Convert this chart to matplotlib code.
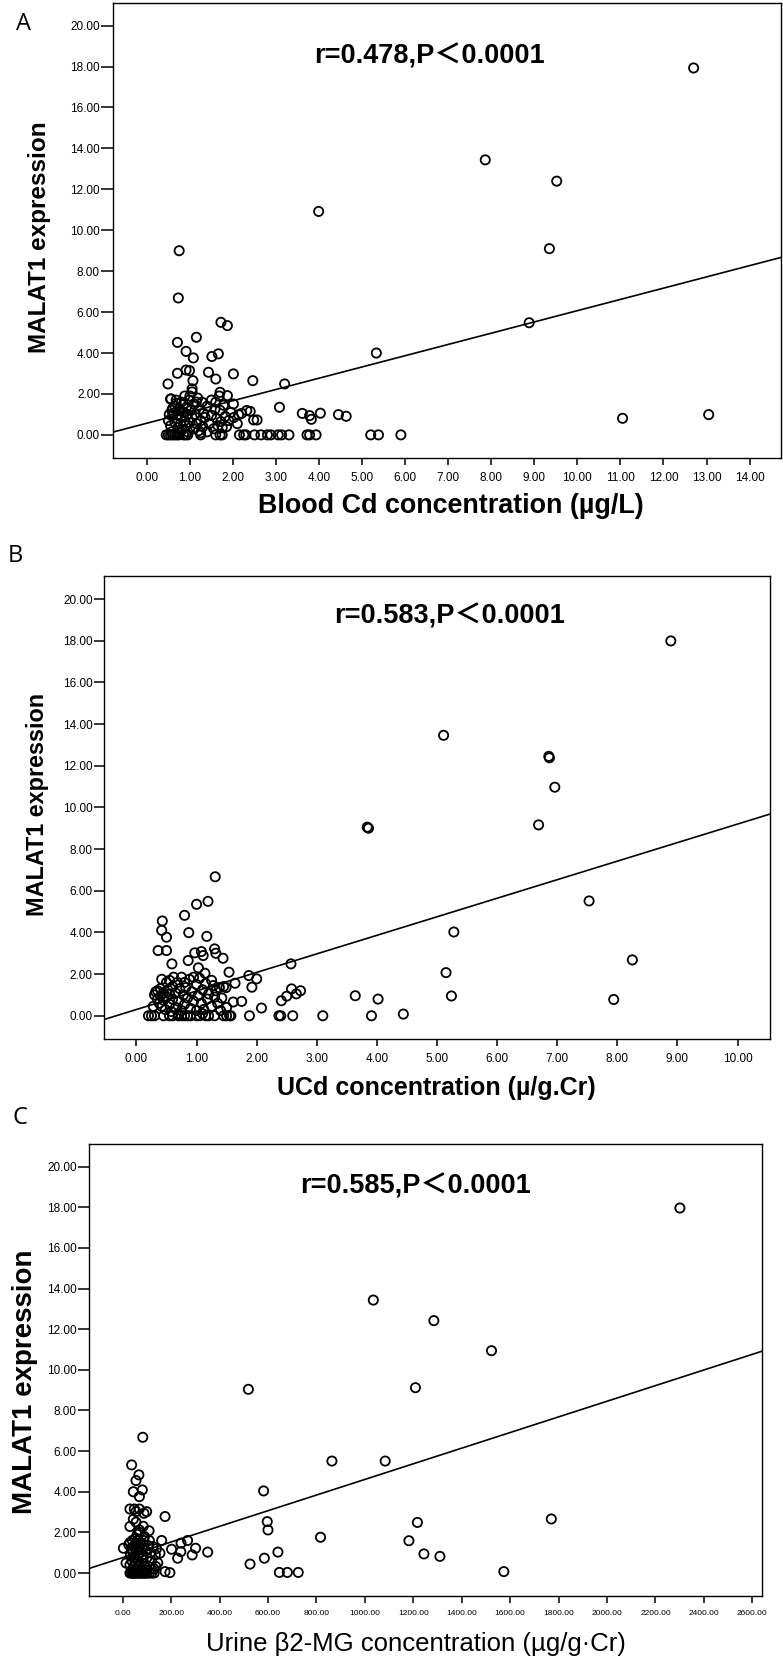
"""
MALAT1 expression vs. cadmium exposure markers (three stacked scatter panels)
"""

#---------------------------------------------------------------------------------------------------
# Import Modules
#---------------------------------------------------------------------------------------------------

import numpy as np
import matplotlib
matplotlib.use('Agg')
import matplotlib.pyplot as plt


#---------------------------------------------------------------------------------------------------
# Data
#---------------------------------------------------------------------------------------------------

# Panel A: blood Cd (ug/L) vs MALAT1
a_points = [(12.70, 17.93), (7.86, 13.44), (9.52, 12.40), (3.99, 10.92), (0.75, 9.00), (9.35, 9.10),
            (0.73, 6.69), (8.88, 5.48), (1.72, 5.50), (1.87, 5.34), (1.15, 4.77), (0.71, 4.52),
            (0.91, 4.08), (1.08, 3.76), (1.51, 3.83), (1.66, 3.96), (5.33, 4.00), (0.91, 3.17),
            (0.99, 3.14), (0.71, 3.01), (1.43, 3.06), (1.60, 2.73), (2.01, 2.98), (0.49, 2.49),
            (1.07, 2.65), (2.46, 2.65), (3.20, 2.49), (1.05, 2.25), (1.70, 2.08), (1.87, 1.92),
            (0.56, 1.76), (3.08, 1.35), (3.61, 1.05), (3.82, 0.76), (3.78, 0.94), (4.03, 1.06),
            (4.45, 0.99), (4.63, 0.91), (2.32, 1.19), (2.40, 1.15), (2.01, 1.51), (2.48, 0.73),
            (2.56, 0.73), (2.13, 0.99), (11.05, 0.81), (13.05, 0.99),
            (0.55, 1.75), (0.58, 1.20), (0.60, 0.95), (0.62, 1.05), (0.65, 0.60), (0.65, 1.40),
            (0.68, 1.55), (0.70, 0.80), (0.72, 1.00), (0.72, 0.35), (0.75, 1.25), (0.78, 0.55),
            (0.80, 1.60), (0.80, 0.90), (0.82, 0.25), (0.85, 1.10), (0.88, 1.90), (0.88, 0.70),
            (0.90, 0.45), (0.92, 1.35), (0.95, 1.00), (0.95, 0.15), (0.98, 1.70), (1.00, 0.60),
            (1.02, 1.20), (1.05, 0.85), (1.05, 2.10), (1.08, 0.30), (1.10, 1.50), (1.12, 1.00),
            (1.15, 0.55), (1.18, 1.80), (1.20, 0.20), (1.22, 1.25), (1.25, 0.70), (1.28, 1.60),
            (1.30, 0.40), (1.32, 1.05), (1.35, 0.85), (1.40, 1.40), (1.45, 0.55), (1.50, 0.95),
            (1.55, 0.30), (1.58, 1.25), (1.60, 1.60), (1.62, 0.80), (1.65, 0.45), (1.68, 1.90),
            (1.70, 1.20), (1.72, 0.65), (1.75, 0.35), (1.78, 1.45), (1.82, 0.90), (1.85, 0.40),
            (1.90, 0.70), (1.95, 1.10), (2.02, 0.85), (0.50, 0.70), (0.52, 1.00), (0.55, 0.45),
            (0.60, 1.30), (0.58, 0.15), (0.68, 1.70), (0.75, 0.10), (0.85, 1.50), (1.00, 1.90),
            (1.15, 1.60), (1.25, 0.10), (1.40, 0.15), (1.50, 1.70), (2.10, 0.55), (2.20, 1.05)]
a_zeros = [0.45, 0.50, 0.55, 0.60, 0.65, 0.70, 0.75, 0.85, 0.90, 0.95, 1.25, 1.60, 1.70, 1.75,
           2.15, 2.25, 2.30, 2.50, 2.65, 2.80, 2.88, 3.05, 3.13, 3.30, 3.72, 3.78, 3.93, 5.20,
           5.38, 5.90]
a_fit = (0.57, 0.55)  # intercept, slope

# Panel B: urinary Cd (ug/g Cr) vs MALAT1
b_points = [(8.89, 17.99), (5.11, 13.46), (6.86, 12.45), (6.87, 12.38), (6.96, 10.97), (6.69, 9.16),
            (3.84, 9.05), (3.86, 9.00), (7.53, 5.51), (5.28, 4.02), (8.25, 2.68), (5.15, 2.07),
            (5.24, 0.95), (7.94, 0.78), (3.64, 0.96), (4.02, 0.80), (4.44, 0.08),
            (1.31, 6.67), (1.00, 5.35), (1.19, 5.49), (0.80, 4.82), (0.43, 4.55), (0.42, 4.10),
            (0.50, 3.77), (0.87, 3.99), (1.17, 3.81), (0.36, 3.13), (0.50, 3.13), (0.97, 3.02),
            (1.08, 3.08), (1.11, 2.89), (1.30, 3.21), (1.32, 3.00), (1.44, 2.76), (0.59, 2.49),
            (0.86, 2.65), (1.03, 2.30), (1.14, 2.04), (1.54, 2.09), (2.57, 2.49), (1.87, 1.93),
            (2.00, 1.77), (1.92, 1.37), (1.64, 1.56), (1.49, 1.35), (1.75, 0.69), (1.61, 0.66),
            (2.08, 0.37), (2.58, 1.29), (2.66, 1.05), (2.73, 1.20), (2.50, 0.94), (2.41, 0.72),
            (0.30, 1.00), (0.32, 1.15), (0.35, 0.80), (0.35, 1.20), (0.38, 0.60), (0.40, 0.95),
            (0.40, 1.30), (0.42, 0.45), (0.45, 1.10), (0.45, 0.75), (0.48, 0.30), (0.50, 1.60),
            (0.50, 0.90), (0.52, 1.25), (0.55, 0.55), (0.55, 1.05), (0.58, 0.20), (0.60, 1.40),
            (0.60, 0.80), (0.62, 1.85), (0.65, 1.10), (0.65, 0.40), (0.68, 1.60), (0.70, 0.70),
            (0.72, 1.30), (0.75, 1.85), (0.75, 0.25), (0.78, 1.00), (0.80, 1.60), (0.80, 0.55),
            (0.82, 1.35), (0.85, 0.85), (0.88, 1.75), (0.90, 0.35), (0.92, 1.15), (0.95, 0.70),
            (1.00, 1.50), (1.00, 0.25), (1.02, 0.95), (1.05, 1.80), (1.08, 0.60), (1.10, 1.25),
            (1.12, 0.30), (1.15, 1.55), (1.18, 0.80), (1.20, 1.05), (1.25, 0.45), (1.28, 1.45),
            (1.30, 0.90), (1.32, 1.20), (1.35, 0.60), (1.38, 1.35), (1.40, 0.25), (1.42, 0.85),
            (1.45, 1.40), (1.50, 0.40), (0.28, 0.45), (0.42, 1.75), (0.55, 1.70), (0.70, 0.10),
            (0.95, 1.85), (1.10, 0.10), (1.25, 1.70)]
b_zeros = [0.20, 0.25, 0.30, 0.45, 0.55, 0.60, 0.70, 0.75, 0.80, 0.85, 0.90, 1.00, 1.05, 1.15,
           1.20, 1.30, 1.45, 1.50, 1.55, 1.57, 1.88, 2.37, 2.40, 2.60, 3.10, 3.91]
b_fit = (0.30, 0.89)

# Panel C: urine beta2-MG (ug/g Cr) vs MALAT1
c_points = [(2301, 17.96), (1035, 13.43), (1285, 12.42), (1523, 10.94), (519, 9.04), (1209, 9.12),
            (83, 6.68), (864, 5.51), (1084, 5.51), (582, 4.04), (597, 2.53), (600, 2.12),
            (817, 1.76), (1182, 1.59), (1217, 2.49), (1244, 0.94), (1310, 0.82), (1770, 2.66),
            (1574, 0.07), (526, 0.44), (585, 0.73), (641, 1.03), (647, 0.03), (680, 0.03),
            (725, 0.03), (37, 5.32), (67, 4.83), (55, 4.55), (44, 4.00), (81, 4.09), (69, 3.76),
            (30, 3.15), (48, 3.15), (69, 3.15), (55, 3.02), (99, 3.02), (88, 2.94), (44, 2.65),
            (30, 2.29), (69, 2.12), (109, 2.08), (175, 2.78), (161, 1.60), (154, 0.98), (3, 1.22),
            (14, 0.49), (202, 1.17), (241, 1.47), (240, 1.05), (227, 0.73), (268, 1.60), (287, 0.89),
            (301, 1.22), (351, 1.03), (175, 0.07), (195, 0.02), (137, 0.32),
            (25, 1.40), (30, 1.50), (32, 0.90), (35, 1.20), (38, 0.60), (40, 1.60), (42, 1.00),
            (45, 0.30), (48, 1.35), (50, 0.80), (52, 1.70), (55, 0.50), (55, 1.10), (58, 1.45),
            (60, 0.20), (62, 0.90), (65, 1.60), (65, 0.60), (68, 1.25), (70, 0.35), (72, 1.00),
            (75, 1.50), (78, 0.70), (80, 1.20), (82, 0.15), (85, 0.90), (88, 1.60), (90, 0.45),
            (95, 1.10), (100, 0.75), (105, 1.35), (110, 0.30), (115, 1.00), (120, 0.60), (125, 1.30),
            (130, 0.20), (135, 0.90), (140, 1.20), (145, 0.50), (30, 0.40), (40, 0.10), (50, 0.15),
            (60, 1.90), (75, 0.10), (90, 1.80), (100, 0.15), (110, 1.60), (70, 2.00), (85, 2.30),
            (55, 2.50)]
c_zeros = [30, 35, 40, 45, 50, 55, 60, 65, 70, 75, 80, 85, 90, 95, 100, 110, 120, 130]
c_fit = (0.758, 0.003847)


#---------------------------------------------------------------------------------------------------
# Layout (pixel positions in the 783 x 1663 output)
#---------------------------------------------------------------------------------------------------

W, H = 783, 1663
SANS = ['Liberation Sans', 'Noto Sans CJK SC', 'DejaVu Sans']

panels = [
    {'pts': a_points, 'zeros': a_zeros, 'fit': a_fit, 'tag': 'A',
     'box': (113.3, 2.7, 781, 458), 'xlim': (-0.78, 14.73), 'xticks': np.arange(0, 15, 1),
     'tag_xy': (24, 24), 'ann': 'r=0.478,P＜0.0001', 'ann_xy': (429, 57),
     'ylab_xy': (40, 237), 'ylab_fs': 17.5, 'xlab': 'Blood Cd concentration (µg/L)',
     'xlab_xy': (451, 506), 'xlab_w': 'bold', 'xlab_fs': 19.4, 'xtick_fs': 8.5, 'ytick_len': 8.6},
    {'pts': b_points, 'zeros': b_zeros, 'fit': b_fit, 'tag': 'B',
     'box': (104, 575.7, 770, 1039.3), 'xlim': (-0.54, 10.54), 'xticks': np.arange(0, 11, 1),
     'tag_xy': (15, 556), 'ann': 'r=0.583,P＜0.0001', 'ann_xy': (449, 617),
     'ylab_xy': (37.5, 804), 'ylab_fs': 16.8, 'xlab': 'UCd concentration (µ/g.Cr)',
     'xlab_xy': (436, 1088), 'xlab_w': 'bold', 'xlab_fs': 18, 'xtick_fs': 8.5, 'ytick_len': 7.2},
    {'pts': c_points, 'zeros': c_zeros, 'fit': c_fit, 'tag': 'C',
     'box': (89, 1143.8, 762, 1596), 'xlim': (-139, 2640), 'xticks': np.arange(0, 2601, 200),
     'tag_xy': (20, 1118), 'ann': 'r=0.585,P＜0.0001', 'ann_xy': (416, 1186),
     'ylab_xy': (25, 1382), 'ylab_fs': 20, 'xlab': 'Urine β2-MG concentration (µg/g·Cr)',
     'xlab_xy': (416, 1644), 'xlab_w': 'normal', 'xlab_fs': 18.5, 'xtick_fs': 6, 'ytick_len': 7.9},
]


#---------------------------------------------------------------------------------------------------
# Make Plot
#---------------------------------------------------------------------------------------------------

fig = plt.figure(figsize=(W / 100, H / 100), dpi=100)

for p in panels:
    l, t, r, b = p['box']
    ax = fig.add_axes([l / W, 1 - b / H, (r - l) / W, (b - t) / H])

    pts = np.array(p['pts'])
    zx = np.array(p['zeros'])
    ax.scatter(pts[:, 0], pts[:, 1], s=44, facecolors='none', edgecolors='k', linewidths=1.3, zorder=3)
    ax.scatter(zx, np.zeros_like(zx), s=44, facecolors='none', edgecolors='k', linewidths=1.3, zorder=3)
    ax.axline((0, p['fit'][0]), slope=p['fit'][1], color='k', lw=1.2, zorder=2)

    ax.set_xlim(p['xlim'])
    ax.set_ylim(-1.13, 21.12)
    ax.set_xticks(p['xticks'])
    ax.set_yticks(np.arange(0, 21, 2))
    ax.set_xticklabels(['%.2f' % v for v in p['xticks']], family=SANS, fontsize=p['xtick_fs'])
    ax.set_yticklabels(['%.2f' % v for v in np.arange(0, 21, 2)], family=SANS, fontsize=8.5)
    ax.tick_params(axis='x', direction='out', length=5, width=1.1, pad=5)
    ax.tick_params(axis='y', direction='out', length=p['ytick_len'], width=1.1, pad=1)
    for s in ax.spines.values():
        s.set_linewidth(1.0)

    fig.text(p['tag_xy'][0] / W, 1 - p['tag_xy'][1] / H, p['tag'], fontsize=17,
             family=['Open Sans', 'DejaVu Sans'], ha='center', va='center')
    fig.text(p['ann_xy'][0] / W, 1 - p['ann_xy'][1] / H, p['ann'], fontsize=19.5,
             family=SANS, fontweight='bold', ha='center', va='center')
    fig.text(p['ylab_xy'][0] / W, 1 - p['ylab_xy'][1] / H, 'MALAT1 expression', rotation=90,
             fontsize=p['ylab_fs'], family=SANS, fontweight='bold', ha='center', va='center')
    fig.text(p['xlab_xy'][0] / W, 1 - p['xlab_xy'][1] / H, p['xlab'], fontsize=p['xlab_fs'],
             family=SANS, fontweight=p['xlab_w'], ha='center', va='center')

plt.savefig('out.png', dpi=100)
